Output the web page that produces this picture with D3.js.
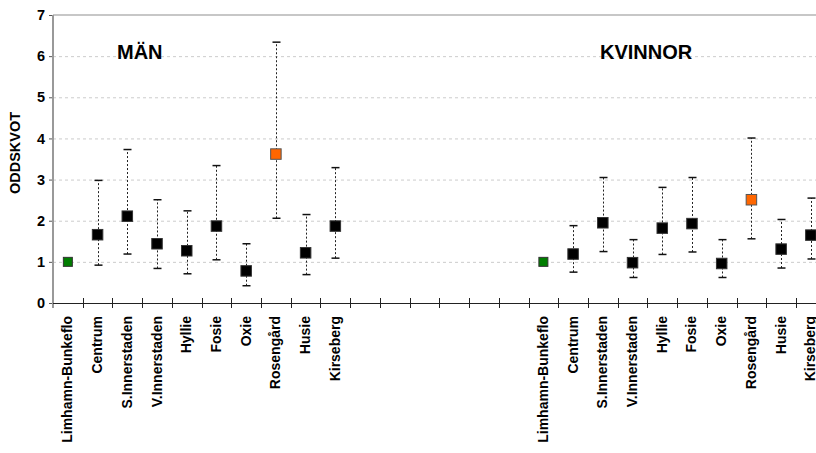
<!DOCTYPE html>
<html>
<head>
<meta charset="utf-8">
<script src="https://cdn.jsdelivr.net/npm/d3@7/dist/d3.min.js"></script>
<style>
  html, body { margin: 0; padding: 0; background: #fff; }
  svg { display: block; }
  text { font-family: "Liberation Sans", Arial, sans-serif; font-weight: bold; fill: #000; }
</style>
</head>
<body>
<svg id="chart" width="816" height="453"></svg>
<script>
// ---- data ----
const districts = ["Limhamn-Bunkeflo", "Centrum", "S.Innerstaden", "V.Innerstaden", "Hyllie", "Fosie", "Oxie", "Rosengård", "Husie", "Kirseberg"];
const menOR    = [1.00, 1.66, 2.11, 1.44, 1.27, 1.87, 0.78, 3.62, 1.22, 1.87];
const menLow   = [null, 0.92, 1.19, 0.84, 0.71, 1.05, 0.42, 2.06, 0.69, 1.09];
const menHigh  = [null, 2.98, 3.73, 2.51, 2.24, 3.34, 1.44, 6.34, 2.15, 3.29];
const womenOR   = [1.00, 1.19, 1.95, 0.98, 1.82, 1.93, 0.96, 2.51, 1.31, 1.65];
const womenLow  = [null, 0.75, 1.25, 0.62, 1.18, 1.24, 0.62, 1.56, 0.85, 1.07];
const womenHigh = [null, 1.88, 3.05, 1.54, 2.81, 3.05, 1.54, 4.01, 2.03, 2.55];
const groupTitles = ["MÄN", "KVINNOR"];
const emptySlots = 6;
const yTicks = [0, 1, 2, 3, 4, 5, 6, 7];
const yLabel = "ODDSKVOT";
const referenceDistrict = "Limhamn-Bunkeflo";
const highlightDistrict = "Rosengård";

(function () {
// ---- build slots ----
const slots = [];
districts.forEach((d, i) => slots.push({ key: "m" + i, label: d, or: menOR[i], lo: menLow[i], hi: menHigh[i] }));
for (let i = 0; i < emptySlots; i++) slots.push({ key: "g" + i, label: "", or: null });
districts.forEach((d, i) => slots.push({ key: "w" + i, label: d, or: womenOR[i], lo: womenLow[i], hi: womenHigh[i] }));

const W = 816;
const mLeft = 53, mTop = 15, mBottom = 303;
const band = 29.72;

const svg = d3.select("#chart");
const x = d3.scaleBand().domain(slots.map(s => s.key)).range([mLeft, mLeft + band * slots.length]).padding(0);
const y = d3.scaleLinear().domain([0, 7]).range([mBottom, mTop]);

// gridlines
svg.append("g").selectAll("line").data(yTicks.filter(t => t > 0 && t < 7)).join("line")
  .attr("x1", mLeft).attr("x2", W)
  .attr("y1", d => y(d) + 0.5).attr("y2", d => y(d) + 0.5)
  .attr("stroke", "#cccccc").attr("stroke-width", 1).attr("stroke-dasharray", "3,3");
// top border
svg.append("line").attr("x1", mLeft).attr("x2", W).attr("y1", y(7)).attr("y2", y(7))
  .attr("stroke", "#b4b4b4").attr("stroke-width", 1.5);

// y axis
const yAxis = d3.axisLeft(y).tickValues(yTicks).tickSize(4).tickPadding(4).tickFormat(d3.format("d"));
const gy = svg.append("g").attr("transform", `translate(${mLeft},0)`).call(yAxis);
gy.select(".domain").remove();
gy.attr("font-family", null).attr("font-size", null);
gy.selectAll(".tick line").attr("stroke", "#555");
gy.selectAll(".tick text").style("font-size", "14.5px").style("font-weight", "bold").attr("fill", "#000");
svg.append("line").attr("x1", mLeft).attr("x2", mLeft).attr("y1", y(7)).attr("y2", y(0) + 5)
  .attr("stroke", "#999").attr("stroke-width", 2);

// x axis line
svg.append("line").attr("x1", mLeft).attr("x2", W).attr("y1", y(0) + 0.5).attr("y2", y(0) + 0.5)
  .attr("stroke", "#222").attr("stroke-width", 1);
svg.append("g").selectAll("line").data(slots.slice(1)).join("line")
  .attr("x1", d => Math.round(x(d.key)) + 0.5).attr("x2", d => Math.round(x(d.key)) + 0.5)
  .attr("y1", y(0) - 5).attr("y2", y(0) + 5)
  .attr("stroke", "#222").attr("stroke-width", 1);

// x labels
svg.append("g").selectAll("text").data(slots.filter(s => s.label)).join("text")
  .attr("transform", d => `translate(${x(d.key) + x.bandwidth() / 2 + 4.5},${y(0) + 13}) rotate(-90)`)
  .attr("text-anchor", "end")
  .style("font-size", "14px")
  .text(d => d.label);

// y label
svg.append("text").attr("transform", `translate(19.5,153) rotate(-90)`)
  .attr("text-anchor", "middle").style("font-size", "14.5px").text(yLabel);

// group titles
svg.append("text").attr("x", 117).attr("y", 59).style("font-size", "20px").text(groupTitles[0]);
svg.append("text").attr("x", 600).attr("y", 59).style("font-size", "20px").text(groupTitles[1]);

// error bars
const pts = slots.filter(s => s.or != null);
const withCI = pts.filter(s => s.lo != null);
const cx = d => x(d.key) + x.bandwidth() / 2;
const eb = svg.append("g");
eb.selectAll("line.v").data(withCI).join("line").attr("class", "v")
  .attr("x1", d => Math.round(cx(d)) + 0.5).attr("x2", d => Math.round(cx(d)) + 0.5)
  .attr("y1", d => y(d.lo)).attr("y2", d => y(d.hi))
  .attr("stroke", "#222").attr("stroke-width", 1).attr("stroke-dasharray", "2,2");
["lo", "hi"].forEach(k => {
  eb.selectAll("line.c" + k).data(withCI).join("line").attr("class", "c" + k)
    .attr("x1", d => Math.round(cx(d)) - 3.5).attr("x2", d => Math.round(cx(d)) + 4.5)
    .attr("y1", d => y(d[k])).attr("y2", d => y(d[k]))
    .attr("stroke", "#111").attr("stroke-width", 1.5);
});

// markers
const colorOf = d => d.label === referenceDistrict ? "#007d00" : (d.label === highlightDistrict ? "#ff6600" : "#000");
const sizeOf = d => d.label === referenceDistrict ? 9 : 10.5;
svg.append("g").selectAll("rect").data(pts).join("rect")
  .attr("x", d => cx(d) - sizeOf(d) / 2).attr("y", d => y(d.or) - sizeOf(d) / 2)
  .attr("width", sizeOf).attr("height", sizeOf)
  .attr("fill", colorOf).attr("stroke", d => d.label === highlightDistrict ? "#555" : "#333").attr("stroke-width", 1);
})();
</script>
</body>
</html>
